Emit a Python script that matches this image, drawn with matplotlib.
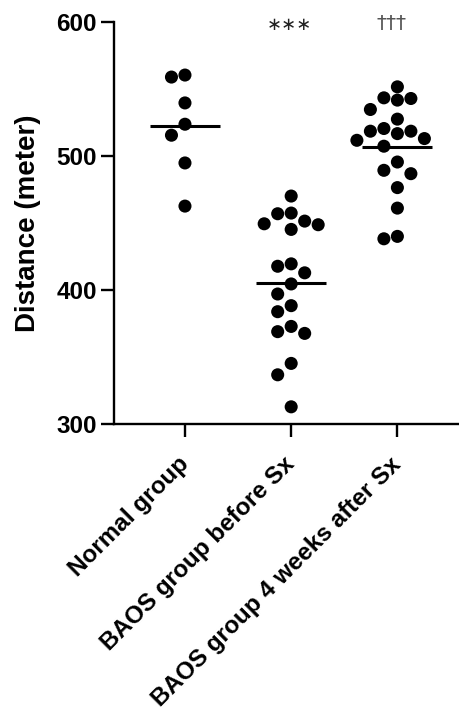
import numpy as np
import matplotlib

matplotlib.use("Agg")

import matplotlib.pyplot as plt

plt.rcParams["font.family"] = ["Liberation Sans", "DejaVu Sans"]

# values (meters)
groups = ["Normal group", "BAOS group before Sx", "BAOS group 4 weeks after Sx"]

normal = [560.4, 558.9, 539.6, 523.7, 515.5, 494.8, 462.6]
before_sx = [
    470.1, 457.4, 456.9, 451.4, 449.4, 448.7, 445.2, 419.5, 417.7, 412.8,
    404.5, 397.0, 388.3, 383.8, 372.8, 368.9, 367.6, 345.2, 336.7, 312.8,
]
after_sx = [
    551.6, 543.4, 542.9, 541.7, 534.7, 527.5, 520.5, 518.5, 518.5, 516.7,
    513.0, 511.7, 507.3, 495.5, 489.3, 486.8, 476.4, 461.1, 440.0, 438.2,
]
marks = ["\u2217\u2217\u2217", "\u2020\u2020\u2020"]

DOT = 9.4  # marker diameter in points


def swarm_offsets(ax, x0, values, diam_px, step_px):
    """Greedy beeswarm in display space, returns x data positions."""
    pts = ax.transData.transform(np.column_stack([np.full(len(values), x0), values]))
    placed = []
    xs = []
    for px, py in pts:
        k_order = [0]
        for k in range(1, 10):
            k_order += [-k, k]
        for k in k_order:
            cx = px + k * step_px
            if all((cx - qx) ** 2 + (py - qy) ** 2 >= diam_px ** 2 for qx, qy in placed):
                break
        placed.append((cx, py))
        xs.append(cx)
    inv = ax.transData.inverted()
    return inv.transform(np.column_stack([xs, pts[:, 1]]))[:, 0]


fig = plt.figure(figsize=(4.59, 7.14), dpi=100)
ax = fig.add_axes([0.2484, 0.4062, 0.7516, 0.5630])
ax.set_xlim(-0.668, 2.58)
ax.set_ylim(300, 600)

for spine in ["top", "right"]:
    ax.spines[spine].set_visible(False)
for spine in ["left", "bottom"]:
    ax.spines[spine].set_linewidth(1.7)

ax.set_yticks([300, 400, 500, 600])
ax.set_xticks(range(len(groups)))
ax.set_xticklabels(groups, rotation=45, ha="right", va="center",
                   rotation_mode="anchor", fontsize=17.5, fontweight="bold")
ax.tick_params(axis="both", length=9.5, width=1.7, direction="out")
ax.tick_params(axis="y", labelsize=17.5, pad=3)
ax.tick_params(axis="x", pad=17)
for lab in ax.get_yticklabels():
    lab.set_fontweight("bold")
ax.set_ylabel("Distance (meter)", fontsize=20, fontweight="bold", labelpad=11)

diam_px = DOT / 72 * fig.dpi
for i, vals in enumerate([normal, before_sx, after_sx]):
    xs = swarm_offsets(ax, i, vals, diam_px * 0.98, 13.5)
    ax.scatter(xs, vals, s=DOT ** 2, color="black", edgecolors="none",
               zorder=3, clip_on=False)
    ax.hlines(np.mean(vals), i - 0.33, i + 0.33, color="black", linewidth=2.2, zorder=2)

ax.text(0.98, 598, marks[0], ha="center", va="center", fontsize=13,
        family="DejaVu Sans", color="#222222")
ax.text(1.94, 599, marks[1], ha="center", va="center", fontsize=14.5,
        family="DejaVu Sans", color="#555555")

fig.savefig("out.png", dpi=100)
plt.close(fig)
